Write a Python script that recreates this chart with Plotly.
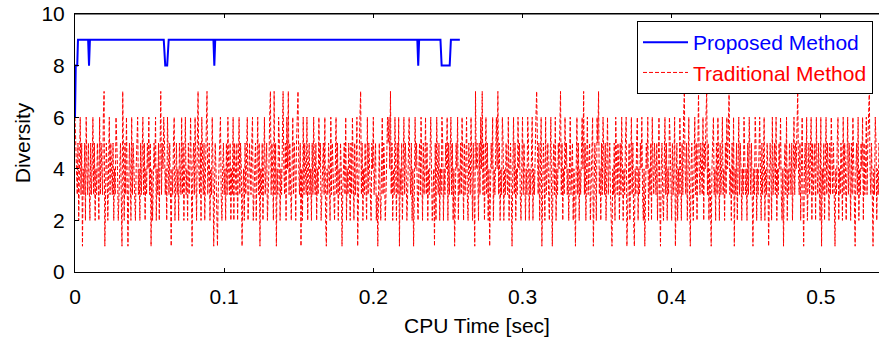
import plotly.graph_objects as go

# Proposed method (blue): step-like diversity trace
prop_x = [0.0, 0.0005, 0.0015, 0.0020, 0.0088, 0.0094, 0.0100, 0.0595, 0.0605, 0.0618,
          0.0628, 0.0928, 0.0934, 0.0940, 0.2295, 0.2301, 0.2307, 0.2450, 0.2458,
          0.2512, 0.2520, 0.2580]
prop_y = [6, 8, 8, 9, 9, 8, 9, 9, 8, 8,
          9, 9, 8, 9, 9, 8, 9, 9, 8,
          8, 9, 9]

trad_dt = 0.0005
trad_chunks = [
    "654352463514352643542534635243542635436713542463543524365423",
    "453174253641354263543245634253463524354635142354624352473546",
    "534264352143562453425436352463425346314536425743526435246734",
    "524364135421345632453425364352436254352463541342534623543562",
    "345246351435246345234673542735143652436743526473542463542567",
    "435142635436245342536435243645234536214354263543246352435413",
    "453624354253642534613467352435426354325463452314532463542356",
    "564735243642536143524635423564352413645324536425346352435642",
    "341526435243652435462534635241354624353642534632543642531745",
    "425364735246352413546243564735243652435436245314635243645324",
    "635424365243562435674352461354263453246314536243546735243645",
    "342563452431463524356473524634523461354265734253643524634532",
    "143526435425364243561345246352143562435463241354624352643543",
    "524631453246352436542534613524364253674352463145324635267435",
    "436254673524314563425364253463425364573425361435246354243653",
    "425364352143652435642534624354135426345362435463241453624354",
    "352463546743524631453624534625345264354261435246354253643521",
    "435624354263542463542536431453624354625346356743521436524354",
]
trad_y = [int(c) for c in "".join(trad_chunks)]
trad_x = [i * trad_dt for i in range(len(trad_y))]

x_ticks = [0, 0.1, 0.2, 0.3, 0.4, 0.5]
x_tick_text = ["0", "0.1", "0.2", "0.3", "0.4", "0.5"]
y_ticks = [0, 2, 4, 6, 8, 10]

fig = go.Figure()
fig.add_trace(go.Scatter(
    x=trad_x, y=trad_y, mode="lines",
    name="<span style='color:#ff0000'>Traditional Method</span>",
    line=dict(color="#ff0000", width=1, dash="4px,2px"),
    legendgroup="b", legendrank=2,
))
fig.add_trace(go.Scatter(
    x=prop_x, y=prop_y, mode="lines",
    name="<span style='color:#0000ff'>Proposed Method</span>",
    line=dict(color="#0000ff", width=2),
    legendgroup="a", legendrank=1,
))

font_family = "Liberation Sans, Arial, Helvetica, sans-serif"
fig.update_layout(
    width=879, height=342,
    margin=dict(l=75, r=0, t=14, b=70, autoexpand=False),
    paper_bgcolor="white", plot_bgcolor="white",
    font=dict(family=font_family, size=21, color="black"),
    showlegend=True,
    legend=dict(
        x=(637 - 75) / 804, y=(272 - 21) / 258, xanchor="left", yanchor="top",
        bgcolor="white", bordercolor="black", borderwidth=1,
        font=dict(size=21, family=font_family),
        tracegroupgap=0, itemwidth=45,
    ),
    xaxis=dict(
        range=[0, 0.539], tickvals=x_ticks, ticktext=x_tick_text,
        showgrid=False, zeroline=False, showline=True, linecolor="black",
        linewidth=1, mirror="ticks", ticks="inside", ticklen=4,
        tickcolor="black", automargin=False, ticklabelstandoff=6,
        ticklabeloverflow="allow",
        title=dict(text="CPU Time [sec]", standoff=11, font=dict(size=21)),
    ),
    yaxis=dict(
        range=[0, 10], tickvals=y_ticks,
        showgrid=False, zeroline=False, showline=True, linecolor="black",
        linewidth=1, ticks="inside", ticklen=4, tickcolor="black",
        automargin=False, ticklabelstandoff=5, ticklabeloverflow="allow",
        title=dict(text="Diversity", standoff=5, font=dict(size=21)),
    ),
    shapes=[dict(type="line", xref="paper", yref="paper", x0=0, x1=1, y0=1, y1=1,
                 line=dict(color="black", width=1), layer="above")],
)

# Remove the browser's default 8px body margin so the figure fills the window.
fig.write_html("out.html", config={"displayModeBar": False},
               post_script="document.body.style.margin='0';")
